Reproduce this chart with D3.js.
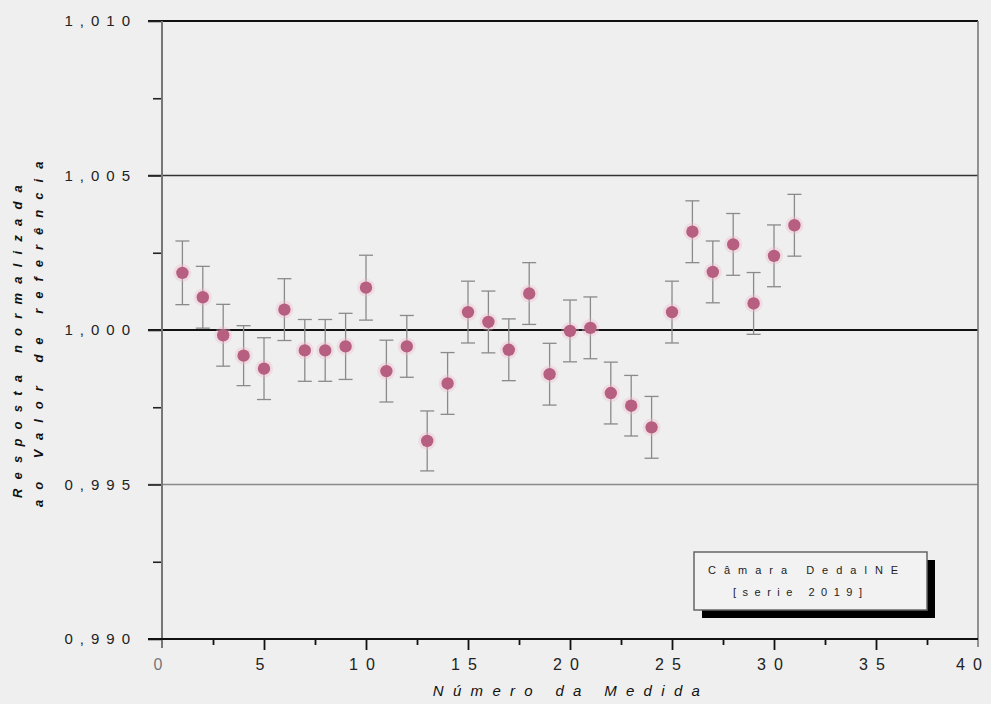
<!DOCTYPE html>
<html>
<head>
<meta charset="utf-8">
<script src="https://cdn.jsdelivr.net/npm/d3@7"></script>
<style>
body { margin: 0; background: #efefef; }
svg { display: block; font-family: "Liberation Sans", Arial, sans-serif; }
</style>
</head>
<body>
<svg id="chart" width="991" height="704"></svg>
<script>
const MEDIDA = [1, 2, 3, 4, 5, 6, 7, 8, 9, 10, 11, 12, 13, 14, 15, 16,
    17, 18, 19, 20, 21, 22, 23, 24, 25, 26, 27, 28, 29, 30, 31]
const RESPOSTA = [1.00185, 1.00106, 0.99983, 0.99917, 0.99875, 1.00066, 0.99934, 0.99934,
    0.99947, 1.00137, 0.99867, 0.99947, 0.99641, 0.99827, 1.00058, 1.00026,
    0.99936, 1.00118, 0.99857, 0.99997, 1.00007, 0.99796, 0.99755, 0.99685,
    1.00058, 1.00318, 1.00188, 1.00277, 1.00086, 1.00240, 1.00339]
const INCERTEZA = [0.00103, 0.0010, 0.0010, 0.00097, 0.0010, 0.0010, 0.0010, 0.0010,
    0.00107, 0.00105, 0.0010, 0.0010, 0.00097, 0.0010, 0.0010, 0.0010,
    0.0010, 0.0010, 0.0010, 0.0010, 0.0010, 0.0010, 0.00098, 0.0010,
    0.0010, 0.0010, 0.0010, 0.0010, 0.0010, 0.0010, 0.0010]

const X_TICKS = [0, 5, 10, 15, 20, 25, 30, 35, 40]
const X_MINOR = [2.5, 7.5, 12.5, 17.5, 22.5, 27.5, 32.5, 37.5]
const Y_TICKS = [0.990, 0.995, 1.000, 1.005, 1.010]
const Y_LABELS = ["0,990", "0,995", "1,000", "1,005", "1,010"]
const Y_MINOR = [0.9925, 0.9975, 1.0025, 1.0075]
const X_TITLE = "Número da Medida"
const Y_TITLE = ["Resposta normalizada", "ao Valor de referência"]
const LEGEND = ["Câmara DedalNE", "[serie 2019]"]

const W = 991, H = 704
const MARGIN = { left: 162, right: 13, top: 21, bottom: 65 }

const svg = d3.select('#chart')

const x = d3.scaleLinear().domain([0, 40]).range([MARGIN.left, W - MARGIN.right])
const y = d3.scaleLinear().domain([0.990, 1.010]).range([H - MARGIN.bottom, MARGIN.top])

// horizontal reference lines (1,010 is the top frame)
const lineStyle = v => {
    if (v === 1.000) return { c: '#111', w: 2.2 }
    if (v === 1.005) return { c: '#333', w: 1.6 }
    if (v === 0.995) return { c: '#8a8a8a', w: 1.5 }
    return { c: '#111', w: 2 }
}
svg.append('g')
    .selectAll('line')
    .data(Y_TICKS.filter(v => v !== 0.990))
    .join('line')
    .attr('x1', x(0) - 14).attr('x2', x(40))
    .attr('y1', d => y(d)).attr('y2', d => y(d))
    .attr('stroke', d => lineStyle(d).c)
    .attr('stroke-width', d => lineStyle(d).w)

// right frame
svg.append('line')
    .attr('x1', x(40)).attr('x2', x(40))
    .attr('y1', y(1.010)).attr('y2', y(0.990) + 8)
    .attr('stroke', '#7a7a7a').attr('stroke-width', 1.6)

// left axis
const yAxis = svg.append('g').attr('transform', `translate(${x(0)},0)`)
yAxis.call(d3.axisLeft(y).tickValues(Y_TICKS).tickSize(14).tickFormat(''))
yAxis.append('g').call(d3.axisLeft(y).tickValues(Y_MINOR).tickSize(9).tickFormat(''))
yAxis.selectAll('.domain').remove()
yAxis.selectAll('line').attr('stroke', '#222').attr('stroke-width', 1.6)
yAxis.append('line')
    .attr('y1', y(1.010)).attr('y2', y(0.990) + 9)
    .attr('stroke', '#777').attr('stroke-width', 2)

svg.append('g')
    .selectAll('text')
    .data(Y_TICKS)
    .join('text')
    .attr('x', x(0) - 25)
    .attr('y', d => y(d))
    .attr('dy', '0.36em')
    .attr('text-anchor', 'end')
    .attr('font-size', 15)
    .attr('letter-spacing', 7)
    .attr('fill', '#222')
    .text((d, i) => Y_LABELS[i])

// bottom axis
const xAxis = svg.append('g').attr('transform', `translate(0,${y(0.990)})`)
xAxis.call(d3.axisBottom(x).tickValues(X_TICKS.slice(1, -1)).tickSize(11).tickFormat(''))
xAxis.append('g').call(d3.axisBottom(x).tickValues(X_MINOR).tickSize(6).tickFormat(''))
xAxis.selectAll('.domain').remove()
xAxis.selectAll('line').attr('stroke', '#111').attr('stroke-width', 1.8)
xAxis.append('line')
    .attr('x1', x(0) - 14).attr('x2', x(40))
    .attr('stroke', '#111').attr('stroke-width', 2)

svg.append('g')
    .selectAll('text')
    .data(X_TICKS)
    .join('text')
    .attr('x', d => x(d))
    .attr('dx', d => d === 40 ? -5 : 0)
    .attr('y', y(0.990) + 31)
    .attr('text-anchor', 'middle')
    .attr('font-size', 16)
    .attr('letter-spacing', 8)
    .attr('fill', d => d === 0 ? '#777' : '#222')
    .text(d => d)

// axis titles
svg.append('text')
    .attr('x', 571).attr('y', 696)
    .attr('text-anchor', 'middle')
    .attr('font-size', 15)
    .attr('font-style', 'italic')
    .attr('letter-spacing', 9.3)
    .attr('fill', '#111')
    .text(X_TITLE)

svg.append('g')
    .selectAll('text')
    .data(Y_TITLE)
    .join('text')
    .attr('transform', (d, i) => i === 0 ? 'translate(22,498) rotate(-90)' : 'translate(43,507) rotate(-90)')
    .attr('font-size', 13)
    .attr('font-weight', 'bold')
    .attr('font-style', 'italic')
    .attr('letter-spacing', (d, i) => i === 0 ? 9.2 : 10)
    .attr('fill', '#111')
    .text(d => d)

// error bars
const bars = svg.append('g')
    .selectAll('g')
    .data(MEDIDA.map((m, i) => ({ m, v: RESPOSTA[i], e: INCERTEZA[i] })))
    .join('g')
    .attr('stroke', '#8a8a8a')
    .attr('stroke-width', 1.3)

bars.append('line')
    .attr('x1', d => x(d.m)).attr('x2', d => x(d.m))
    .attr('y1', d => y(d.v - d.e)).attr('y2', d => y(d.v + d.e))
bars.append('line')
    .attr('x1', d => x(d.m) - 7).attr('x2', d => x(d.m) + 7)
    .attr('y1', d => y(d.v + d.e)).attr('y2', d => y(d.v + d.e))
bars.append('line')
    .attr('x1', d => x(d.m) - 7).attr('x2', d => x(d.m) + 7)
    .attr('y1', d => y(d.v - d.e)).attr('y2', d => y(d.v - d.e))

// points
const pts = svg.append('g')
    .selectAll('g')
    .data(MEDIDA.map((m, i) => ({ m, v: RESPOSTA[i] })))
    .join('g')
    .attr('transform', d => `translate(${x(d.m)},${y(d.v)})`)
pts.append('circle').attr('r', 9).attr('fill', '#f2b9cb').attr('opacity', 0.35)
pts.append('circle').attr('r', 6.2).attr('fill', '#b65f80')

// legend box
const lg = svg.append('g').attr('transform', 'translate(694,552)')
lg.append('rect').attr('x', 8).attr('y', 8).attr('width', 233).attr('height', 58).attr('fill', '#000')
lg.append('rect').attr('width', 233).attr('height', 58)
    .attr('fill', '#f2f2f2').attr('stroke', '#666').attr('stroke-width', 1.5)
lg.selectAll('text.l')
    .data(LEGEND)
    .join('text')
    .attr('class', 'l')
    .attr('x', (d, i) => i === 0 ? 14 : 39)
    .attr('y', (d, i) => i === 0 ? 22 : 44)
    .attr('font-size', 11)
    .attr('letter-spacing', (d, i) => i === 0 ? 8 : 6.5)
    .attr('fill', '#222')
    .text(d => d)
</script>
</body>
</html>
